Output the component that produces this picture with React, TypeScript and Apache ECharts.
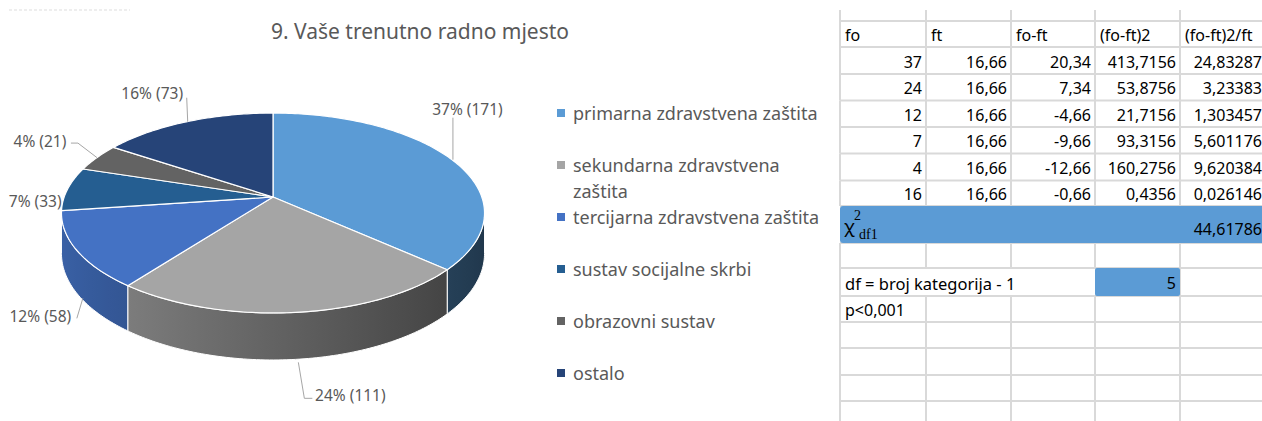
import React, { useEffect, useRef } from 'react';
import * as echarts from 'echarts';

// ---------------- data ----------------
const chartTitle = '9. Vaše trenutno radno mjesto';
const categories = [
  'primarna zdravstvena zaštita',
  'sekundarna zdravstvena zaštita',
  'tercijarna zdravstvena zaštita',
  'sustav socijalne skrbi',
  'obrazovni sustav',
  'ostalo',
];
const counts = [171, 111, 58, 33, 21, 73];
const percents = [37, 24, 12, 7, 4, 16];
const sliceColors = ['#5B9BD5', '#A5A5A5', '#4472C4', '#255E91', '#636363', '#264478'];

const tableHeaders = ['fo', 'ft', 'fo-ft', '(fo-ft)2', '(fo-ft)2/ft'];
const foValues = [37, 24, 12, 7, 4, 16];
const ftValues = [16.66, 16.66, 16.66, 16.66, 16.66, 16.66];
const diffValues = [20.34, 7.34, -4.66, -9.66, -12.66, -0.66];
const diffSquaredValues = [413.7156, 53.8756, 21.7156, 93.3156, 160.2756, 0.4356];
const chiContributions = [24.83287, 3.23383, 1.303457, 5.601176, 9.620384, 0.026146];
const chiSquareTotal = 44.61786;
const dfText = 'df = broj kategorija - 1';
const dfValue = 5;
const pText = 'p<0,001';

// ---------------- layout / style ----------------
const FONT = '"Noto Sans", "Open Sans", sans-serif';
const SERIF = '"Liberation Serif", "DejaVu Serif", serif';
const GREY_TEXT = '#595959';
const GRID = '#D9D9D9';
const BLUE_CELL = '#5B9BD5';

const PIE = { cx: 273, cy: 197, a: 208.8, b: 97.4, k: 0.16, h: 39.5 };
const SIDE_FROM = (Math.acos(-PIE.k) * 180) / Math.PI;
const SIDE_TO = 360 - SIDE_FROM;

// label placement relative to the slice's edge anchor
const LABEL_LAYOUT = [
  { edge: 0, dx: 15.5, dy: -51, line: [[1, 0], [1, -42]] },
  { edge: 1, dx: 54, dy: 36, line: [[2, 3], [8, 39], [16, 39]] },
  { edge: 1, dx: -36.5, dy: 23, line: [[6, 5], [0, 25]] },
  { edge: 0, dx: -32.5, dy: 12, line: null },
  { edge: 0, dx: -57, dy: -16.5, line: [[0, 0], [-19, -14.5], [-26, -14.5]] },
  { edge: 0, dx: -34.5, dy: -29, line: [[1, 0], [0, -24]] },
];

const LEGEND_FONT_PX = 18;
const LEGEND_WRAPPED_ITEMS = [1]; // legend entries that wrap before their last word
const COL_X = [840, 926, 1011, 1095, 1180, 1266];
const ROW_Y = [10, 21, 47, 74, 100.5, 127, 153.5, 180.5, 206, 243, 268, 296, 322, 348, 375, 401, 428];

const fmt = (n: number) => String(n).replace('.', ',');
const total = counts.reduce((s, c) => s + c, 0);

function project(thetaDeg: number, drop: number): number[] {
  const t = (thetaDeg * Math.PI) / 180;
  const u = Math.sin(t);
  const v = -Math.cos(t);
  const w = 1 - PIE.k * v;
  return [PIE.cx + (PIE.a * u) / w, PIE.cy + (PIE.b * v + drop) / w];
}

function arc(a: number, b: number, drop: number): number[][] {
  const pts: number[][] = [];
  for (let t = a; t < b; t += 1) pts.push(project(t, drop));
  pts.push(project(b, drop));
  return pts;
}

function hexToRgb(hex: string) {
  const n = parseInt(hex.slice(1), 16);
  return [(n >> 16) & 255, (n >> 8) & 255, n & 255];
}

function shadeColor(hex: string, thetaDeg: number) {
  const f = 0.6 + 0.25 * -Math.sin((thetaDeg * Math.PI) / 180);
  const [r, g, b] = hexToRgb(hex);
  const c = (x: number) => Math.max(0, Math.min(255, Math.round(x * f)));
  return `rgb(${c(r)},${c(g)},${c(b)})`;
}

function renderSlice(params: any, api: any) {
  const i = params.dataIndex;
  const val = api.value(0);
  let before = 0;
  for (let j = 0; j < i; j++) before += counts[j];
  const t1 = (before / total) * 360;
  const t2 = ((before + val) / total) * 360;
  const color = sliceColors[i];
  const children: any[] = [];

  // top face
  const topPts = [[PIE.cx, PIE.cy], ...arc(t1, t2, 0)];
  children.push({
    type: 'polygon',
    z2: 2,
    shape: { points: topPts },
    style: { fill: color, stroke: '#ffffff', lineWidth: 1.2, lineJoin: 'round' },
  });

  // visible outer side
  const a0 = Math.max(t1, SIDE_FROM);
  const a1 = Math.min(t2, SIDE_TO);
  if (a1 > a0) {
    const topArc = arc(a0, a1, 0);
    const botArc = arc(a0, a1, PIE.h).reverse();
    const xs = topArc.map((p) => p[0]);
    const xmin = Math.min(...xs);
    const xmax = Math.max(...xs);
    const stops: any[] = [];
    const n = 12;
    for (let s = 0; s <= n; s++) {
      const t = a0 + ((a1 - a0) * s) / n;
      const x = project(t, 0)[0];
      stops.push({ offset: xmax > xmin ? (x - xmin) / (xmax - xmin) : 0, color: shadeColor(color, t) });
    }
    stops.sort((p, q) => p.offset - q.offset);
    children.push({
      type: 'polygon',
      z2: 1,
      shape: { points: topArc.concat(botArc) },
      style: {
        fill: new echarts.graphic.LinearGradient(xmin, 0, xmax, 0, stops, true),
        stroke: '#ffffff',
        lineWidth: 1,
        lineJoin: 'round',
      },
    });
  }

  // label + leader line
  const lay = LABEL_LAYOUT[i];
  const mid = (t1 + t2) / 2;
  const anchor = project(mid, lay.edge ? PIE.h : 0);
  if (lay.line) {
    children.push({
      type: 'polyline',
      z2: 3,
      shape: { points: lay.line.map((p) => [anchor[0] + p[0], anchor[1] + p[1]]) },
      style: { stroke: '#A6A6A6', lineWidth: 1, fill: null },
    });
  }
  children.push({
    type: 'text',
    z2: 4,
    x: anchor[0] + lay.dx,
    y: anchor[1] + lay.dy,
    style: {
      text: `${percents[i]}% (${counts[i]})`,
      fill: GREY_TEXT,
      font: `15.5px ${FONT}`,
      align: 'center',
      verticalAlign: 'middle',
      textAlign: 'center',
      textVerticalAlign: 'middle',
    },
  });
  return { type: 'group', children };
}

function textEl(x: number, y: number, text: string, opts: any = {}) {
  const align = opts.align || 'left';
  const vAlign = opts.verticalAlign || 'middle';
  return {
    type: 'text',
    x,
    y,
    silent: true,
    z: opts.z || 10,
    style: {
      text,
      fill: opts.fill || '#000000',
      font: opts.font || `16px ${FONT}`,
      align,
      verticalAlign: vAlign,
      textAlign: align,
      textVerticalAlign: vAlign,
      ...(opts.extra || {}),
    },
  };
}

function buildGraphic() {
  const els: any[] = [];

  // faint chart-area remnant
  els.push({
    type: 'line',
    silent: true,
    shape: { x1: 9, y1: 10, x2: 130, y2: 10 },
    style: { stroke: '#DDDDDD', lineWidth: 1, lineDash: [3, 2] },
  });

  // title
  els.push(textEl(420, 31, chartTitle, { align: 'center', fill: GREY_TEXT, font: `21px ${FONT}` }));

  // legend
  categories.forEach((name, i) => {
    const cy = 113 + i * 52;
    const shown = LEGEND_WRAPPED_ITEMS.indexOf(i) >= 0 ? name.replace(/ (\S+)$/, '\n$1') : name;
    els.push({
      type: 'rect',
      silent: true,
      shape: { x: 557, y: cy - 4, width: 8, height: 8 },
      style: { fill: sliceColors[i] },
    });
    els.push(
      textEl(573, cy - 13, shown, {
        fill: GREY_TEXT,
        font: `${LEGEND_FONT_PX}px ${FONT}`,
        verticalAlign: 'top',
        extra: { lineHeight: 26 },
      })
    );
  });

  // ---- table grid ----
  const xLeft = COL_X[0];
  const xRight = COL_X[COL_X.length - 1];
  for (let r = 1; r < ROW_Y.length - 1; r++) {
    els.push({
      type: 'line',
      silent: true,
      shape: { x1: xLeft, y1: ROW_Y[r], x2: xRight, y2: ROW_Y[r] },
      style: { stroke: GRID, lineWidth: 2 },
    });
  }
  for (let c = 0; c < COL_X.length - 1; c++) {
    for (let r = 0; r < ROW_Y.length - 1; r++) {
      if (r === 8) continue; // chi-square row is filled
      if (r === 10 && c >= 1) continue; // overflowing text + filled cell
      els.push({
        type: 'line',
        silent: true,
        shape: { x1: COL_X[c], y1: ROW_Y[r], x2: COL_X[c], y2: ROW_Y[r + 1] },
        style: { stroke: GRID, lineWidth: 2 },
      });
    }
  }
  els.push({
    type: 'line',
    silent: true,
    shape: { x1: COL_X[4], y1: ROW_Y[10], x2: COL_X[4], y2: ROW_Y[11] },
    style: { stroke: GRID, lineWidth: 2 },
  });

  // header
  tableHeaders.forEach((h, c) => {
    els.push(textEl(COL_X[c] + 5, (ROW_Y[1] + ROW_Y[2]) / 2 + 1, h));
  });
  // data rows
  const columns = [foValues, ftValues, diffValues, diffSquaredValues, chiContributions];
  for (let i = 0; i < foValues.length; i++) {
    const cy = (ROW_Y[2 + i] + ROW_Y[3 + i]) / 2 + 1;
    columns.forEach((col, c) => {
      const right = c === columns.length - 1 ? 1262 : COL_X[c + 1] - 4;
      els.push(textEl(right, cy, fmt(col[i]), { align: 'right' }));
    });
  }

  // chi-square row
  els.push({
    type: 'rect',
    silent: true,
    z: 5,
    shape: { x: xLeft, y: ROW_Y[8], width: xRight - xLeft, height: ROW_Y[9] - ROW_Y[8], r: 3 },
    style: { fill: BLUE_CELL },
  });
  els.push(textEl(844, 226, 'χ', { font: `18px ${FONT}` }));
  els.push(textEl(854, 215, '2', { font: `14px ${SERIF}` }));
  els.push(textEl(859, 234, 'df1', { font: `14px ${SERIF}` }));
  els.push(textEl(1262, 229, fmt(chiSquareTotal), { align: 'right' }));

  // df row
  els.push({
    type: 'rect',
    silent: true,
    z: 5,
    shape: { x: COL_X[3], y: ROW_Y[10], width: COL_X[4] - COL_X[3], height: ROW_Y[11] - ROW_Y[10], r: 2 },
    style: { fill: BLUE_CELL },
  });
  els.push(textEl(845, (ROW_Y[10] + ROW_Y[11]) / 2 + 1, dfText, { font: `16.5px ${FONT}` }));
  els.push(textEl(COL_X[4] - 4, (ROW_Y[10] + ROW_Y[11]) / 2 + 1, String(dfValue), { align: 'right' }));

  // p row
  els.push(textEl(845, (ROW_Y[11] + ROW_Y[12]) / 2 + 1, pText));

  return els;
}

function buildOption(): any {
  return {
    animation: false,
    backgroundColor: '#ffffff',
    graphic: { elements: buildGraphic() },
    series: [
      {
        type: 'custom',
        name: 'Radno mjesto',
        coordinateSystem: 'none',
        silent: true,
        animation: false,
        renderItem: renderSlice,
        data: counts,
      },
    ],
  };
}

export default function App() {
  const ref = useRef<HTMLDivElement>(null);
  useEffect(() => {
    if (!ref.current) return;
    const chart = echarts.init(ref.current, null, { renderer: 'svg' });
    chart.setOption(buildOption());
    return () => chart.dispose();
  }, []);
  return (
    <div
      ref={ref}
      style={{ position: 'fixed', left: 0, top: 0, width: 1262, height: 421, background: '#ffffff' }}
    />
  );
}
